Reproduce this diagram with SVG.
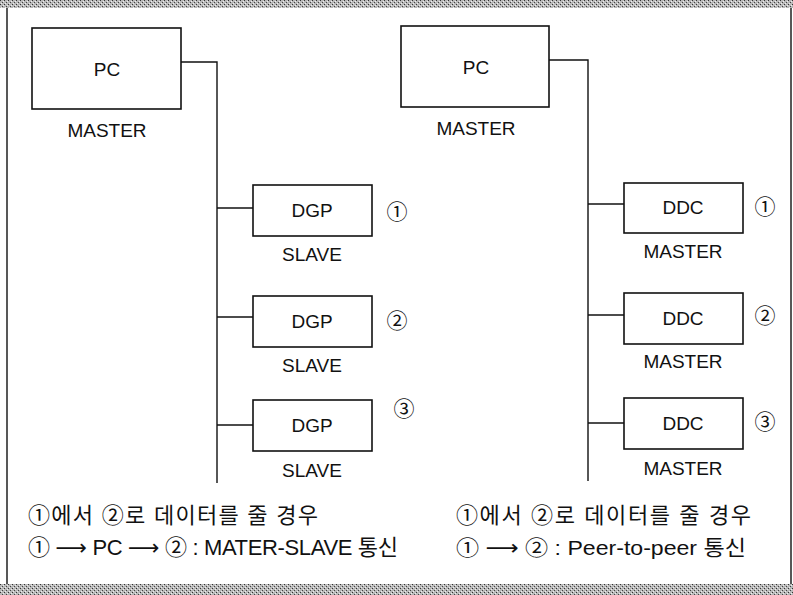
<svg xmlns="http://www.w3.org/2000/svg" width="793" height="595" viewBox="0 0 793 595">
<defs>
<pattern id="ht" width="4" height="4" patternUnits="userSpaceOnUse">
<rect width="4" height="4" fill="#b8b8b8"/>
<rect x="0" y="0" width="1" height="1" fill="#333"/>
<rect x="2" y="2" width="1" height="1" fill="#444"/>
<rect x="1" y="3" width="1" height="1" fill="#eee"/>
<rect x="3" y="1" width="1" height="1" fill="#eee"/>
</pattern>
</defs>
<style>
.box{fill:#fff;stroke:#111;stroke-width:1.6}
.ln{fill:none;stroke:#111;stroke-width:1.4}
.t{font-family:"Liberation Sans",Arial,sans-serif;font-size:19px;fill:#111;text-anchor:middle}
.n{font-family:"Noto Sans CJK KR","DejaVu Sans",sans-serif;font-size:21px;fill:#111;text-anchor:middle}
.k{font-family:"Liberation Sans","Noto Sans CJK KR","DejaVu Sans",sans-serif;font-size:22px;fill:#111}
</style>
<rect width="793" height="595" fill="#fff"/>
<rect x="0" y="0" width="793" height="8" fill="url(#ht)"/>
<rect x="0" y="584" width="793" height="11" fill="url(#ht)"/>
<line x1="7" y1="8" x2="7" y2="584" class="ln"/>
<line x1="791" y1="8" x2="791" y2="584" class="ln"/>

<g id="connectors">
<polyline class="ln" points="181,62 217,62 217,483"/>
<line class="ln" x1="217" y1="208" x2="253" y2="208"/>
<line class="ln" x1="217" y1="317" x2="253" y2="317"/>
<line class="ln" x1="217" y1="425" x2="253" y2="425"/>
<polyline class="ln" points="549,60 588,60 588,481"/>
<line class="ln" x1="588" y1="204" x2="624" y2="204"/>
<line class="ln" x1="588" y1="315" x2="624" y2="315"/>
<line class="ln" x1="588" y1="423" x2="624" y2="423"/>
</g>

<g id="pc-left">
<rect class="box" x="32" y="28" width="149" height="81"/>
<text class="t" x="107" y="76">PC</text>
<text class="t" x="107" y="137">MASTER</text>
</g>
<g id="dgp1">
<rect class="box" x="253" y="185" width="119" height="51"/>
<text class="t" x="312" y="217">DGP</text>
<text class="t" x="312" y="261">SLAVE</text>
<text class="n" x="397" y="219">①</text>
</g>
<g id="dgp2">
<rect class="box" x="253" y="296" width="119" height="51"/>
<text class="t" x="312" y="328">DGP</text>
<text class="t" x="312" y="372">SLAVE</text>
<text class="n" x="397" y="328">②</text>
</g>
<g id="dgp3">
<rect class="box" x="253" y="400" width="119" height="51"/>
<text class="t" x="312" y="432">DGP</text>
<text class="t" x="312" y="477">SLAVE</text>
<text class="n" x="404" y="416">③</text>
</g>

<g id="pc-right">
<rect class="box" x="401" y="26" width="148" height="81"/>
<text class="t" x="476" y="74">PC</text>
<text class="t" x="476" y="135">MASTER</text>
</g>
<g id="ddc1">
<rect class="box" x="624" y="183" width="119" height="50"/>
<text class="t" x="683" y="214">DDC</text>
<text class="t" x="683" y="258">MASTER</text>
<text class="n" x="765" y="214">①</text>
</g>
<g id="ddc2">
<rect class="box" x="624" y="293" width="119" height="51"/>
<text class="t" x="683" y="325">DDC</text>
<text class="t" x="683" y="368">MASTER</text>
<text class="n" x="765" y="323">②</text>
</g>
<g id="ddc3">
<rect class="box" x="624" y="398" width="119" height="51"/>
<text class="t" x="683" y="430">DDC</text>
<text class="t" x="683" y="475">MASTER</text>
<text class="n" x="765" y="429">③</text>
</g>

<g id="notes">
<text class="k" x="28" y="523" textLength="290" lengthAdjust="spacing">①에서 ②로 데이터를 줄 경우</text>
<text class="k" x="28" y="555" textLength="370" lengthAdjust="spacing">① ⟶ PC ⟶ ② : MATER-SLAVE 통신</text>
<text class="k" x="456" y="523" textLength="295" lengthAdjust="spacing">①에서 ②로 데이터를 줄 경우</text>
<text class="k" x="456" y="555" style="font-size:21px" textLength="290" lengthAdjust="spacingAndGlyphs">① ⟶ ② : Peer-to-peer  통신</text>
</g>
</svg>
